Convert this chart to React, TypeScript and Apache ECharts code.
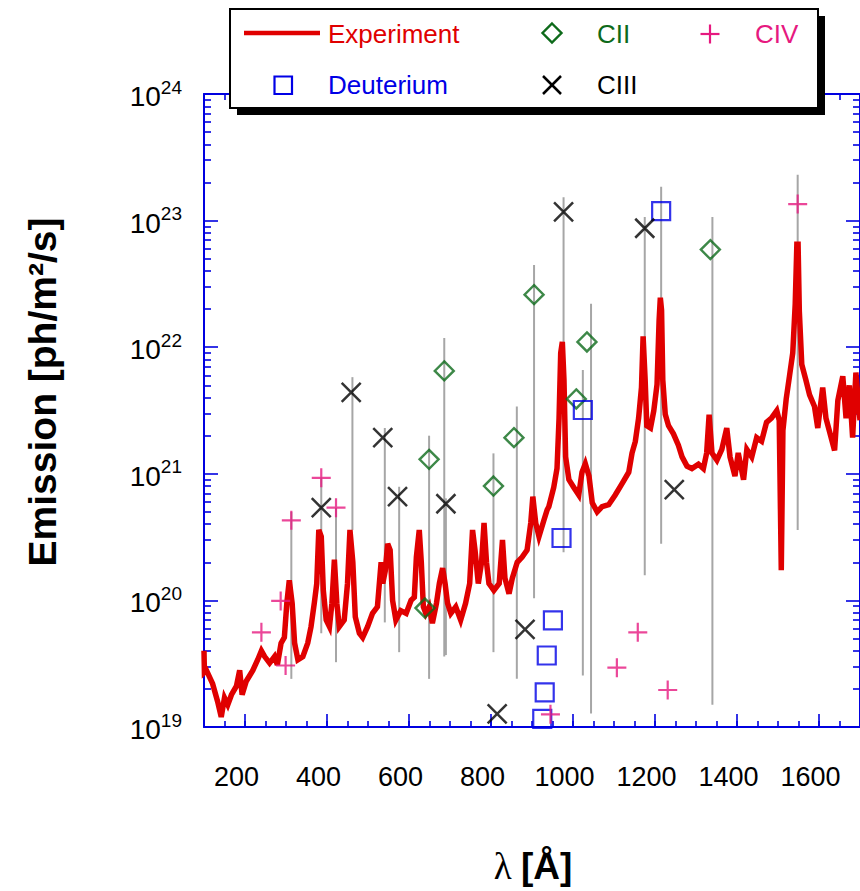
import React, { useEffect, useRef } from 'react';
import * as echarts from 'echarts';

// ---------- data ----------
const experimentLambda = [
  100, 101, 106, 121, 133, 142, 150, 158, 167, 179, 187, 193, 203, 219, 231, 240, 248, 260, 272, 279,
  288, 296, 302, 308, 315, 321, 329, 341, 353, 361, 369, 375, 380, 386, 391, 398, 406, 412, 418, 424,
  430, 442, 450, 456, 463, 469, 479, 487, 499, 511, 523, 532, 536, 542, 548, 554, 560, 568, 580, 593,
  605, 613, 618, 625, 630, 635, 641, 649, 657, 667, 674, 682, 688, 694, 702, 714, 726, 738, 748, 755,
  761, 769, 777, 783, 789, 795, 807, 820, 828, 834, 844, 852, 864, 876, 888, 897, 902, 909, 917, 929,
  937, 941, 953, 961, 966, 970, 974, 978, 982, 990, 1002, 1014, 1022, 1030, 1039, 1047, 1059, 1071, 1087, 1103,
  1120, 1136, 1144, 1152, 1160, 1167, 1171, 1176, 1180, 1189, 1197, 1205, 1210, 1213, 1216, 1219, 1225, 1233, 1245, 1257,
  1266, 1278, 1290, 1306, 1318, 1326, 1332, 1339, 1351, 1363, 1375, 1383, 1395, 1403, 1416, 1424, 1436, 1448, 1460, 1472,
  1484, 1497, 1503, 1508, 1512, 1520, 1528, 1536, 1542, 1546, 1549, 1552, 1558, 1568, 1577, 1589, 1597, 1609, 1617, 1625,
  1638, 1646, 1658, 1666, 1674, 1682, 1690, 1700,
];
const experimentEmission = [
  4.0e19, 2.7e19, 2.8e19, 2.2e19, 1.6e19, 1.2e19, 1.7e19, 1.5e19, 1.8e19, 2.1e19, 2.8e19, 1.8e19, 2.3e19, 2.8e19, 3.4e19, 4.0e19, 3.6e19, 3.2e19, 3.6e19, 3.1e19,
  4.6e19, 5.1e19, 9.5e19, 1.44e20, 9.5e19, 4.6e19, 3.4e19, 3.6e19, 4.6e19, 6.2e19, 9.5e19, 1.36e20, 3.6e20, 3.2e20, 1.2e20, 7.0e19, 6.2e19, 9.5e19, 2.1e20, 9.5e19,
  6.2e19, 7.0e19, 1.36e20, 3.6e20, 2.0e20, 7.4e19, 5.5e19, 5.1e19, 6.2e19, 7.9e19, 8.9e19, 2.0e20, 1.36e20, 1.7e20, 2.8e20, 2.5e20, 1.0e20, 7.0e19, 8.3e19, 7.9e19,
  1.0e20, 1.06e20, 2.2e20, 3.6e20, 2.0e20, 8.9e19, 7.9e19, 8.9e19, 6.6e19, 9.5e19, 1.36e20, 1.8e20, 1.36e20, 9.5e19, 7.9e19, 8.9e19, 7.0e19, 9.5e19, 1.36e20, 3.6e20,
  2.5e20, 1.36e20, 2.0e20, 4.1e20, 2.0e20, 1.36e20, 1.2e20, 1.36e20, 3.0e20, 1.5e20, 1.13e20, 1.5e20, 2.0e20, 2.2e20, 2.5e20, 4.1e20, 6.6e20, 4.1e20, 3.2e20, 4.3e20,
  5.2e20, 5.5e20, 7.8e20, 1.1e21, 2.75e21, 9.0e21, 1.1e22, 5.5e21, 1.36e21, 9.0e20, 7.8e20, 6.8e20, 1.03e21, 1.2e21, 9.6e20, 5.9e20, 5.0e20, 5.5e20, 5.7e20, 6.8e20,
  8.4e20, 1.03e21, 1.46e21, 1.8e21, 2.75e21, 4.8e21, 1.22e22, 5.5e21, 2.4e21, 2.3e21, 3.15e21, 5.1e21, 1.63e22, 2.46e22, 1.96e22, 5.5e21, 2.95e21, 2.4e21, 2.07e21, 1.68e21,
  1.36e21, 1.15e21, 1.1e21, 1.19e21, 1.1e21, 1.46e21, 2.93e21, 1.46e21, 1.28e21, 1.56e21, 2.3e21, 1.36e21, 9.6e20, 1.46e21, 9.0e20, 1.56e21, 1.36e21, 1.93e21, 1.81e21, 2.55e21,
  2.75e21, 3.15e21, 2.65e21, 1.73e20, 2.2e21, 3.9e21, 5.9e21, 9.0e21, 2.2e22, 6.5e22, 6.5e22, 1.93e22, 7.3e21, 5.5e21, 4.2e21, 3.4e21, 2.3e21, 4.8e21, 2.75e21, 2.2e21,
  1.53e21, 3.8e21, 5.9e21, 2.75e21, 5.0e21, 1.93e21, 6.3e21, 2.65e21,
];

const deuteriumLambda = [925, 931, 936, 951, 972, 1024, 1215];
const deuteriumEmission = [1.16e19, 1.88e19, 3.67e19, 6.95e19, 3.11e20, 3.19e21, 1.19e23];

const ciiLambda = [639, 649, 686, 806, 856, 905, 1008, 1034, 1335];
const ciiEmission = [8.7e19, 1.3e21, 6.5e21, 8.0e20, 1.93e21, 2.6e22, 3.9e21, 1.1e22, 5.9e22];

const ciiiLambda = [386, 459, 536, 572, 690, 815, 883, 977, 1175, 1247];
const ciiiEmission = [5.4e20, 4.4e21, 1.93e21, 6.6e20, 5.8e20, 1.27e19, 5.9e19, 1.17e23, 8.7e22, 7.5e20];

const civLambda = [240, 287, 299, 313, 386, 422, 945, 1107, 1158, 1231, 1548];
const civEmission = [5.6e19, 9.9e19, 3.06e19, 4.29e20, 9.3e20, 5.4e20, 1.26e19, 2.94e19, 5.6e19, 1.96e19, 1.35e23];

const rangeLambda = [313, 386, 422, 462, 541, 576, 649, 686, 690, 806, 863, 905, 977, 1024, 1044, 1175, 1215, 1340, 1548];
const rangeLow = [2.4e19, 5.5e19, 3.25e19, 3.6e20, 6.7e19, 3.9e19, 2.4e19, 3.6e19, 3.7e19, 3.9e19, 2.4e19, 1.04e20, 2.4e20, 2.55e19, 1.28e19, 1.58e20, 2.8e20, 1.5e19, 3.6e20];
const rangeHigh = [5.0e20, 9.4e20, 5.4e20, 5.8e21, 2.3e21, 7.9e20, 2.0e21, 1.18e22, 6.4e20, 1.45e21, 3.4e21, 4.45e22, 1.53e23, 6.6e21, 2.2e22, 1.07e23, 1.85e23, 1.07e23, 2.3e23];

const xTickLabels = [200, 400, 600, 800, 1000, 1200, 1400, 1600];
const yDecadeExponents = [19, 20, 21, 22, 23, 24];
const minorMultipliers = [2, 3, 4, 5, 6, 7, 8, 9];

// ---------- styles ----------
const FONT = '"Liberation Sans", Arial, Helvetica, sans-serif';
const BLUE = '#0000e0';
const RED = '#e00000';
const GREEN = '#0d6a1a';
const PINK = '#e6197f';
const DBLUE = '#0000e6';

export default function App() {
  const ref = useRef<HTMLDivElement>(null);

  useEffect(() => {
    if (!ref.current) return;
    const chart = echarts.init(ref.current, null, { renderer: 'svg' });

    const pairs = (xs: number[], ys: number[]) => xs.map((x, i) => [x, ys[i]]);
    const minorLogs: number[] = [];
    yDecadeExponents.slice(0, -1).forEach((e) =>
      minorMultipliers.forEach((m) => minorLogs.push(e + Math.log10(m)))
    );

    const xRange = { type: 'value', min: 100, max: 1700, splitLine: { show: false } };
    const axisLine = { show: true, onZero: false, lineStyle: { color: BLUE, width: 2 } };
    const tickStyle = { color: BLUE, width: 1.6 };
    const yRange = { type: 'value', min: 19, max: 24, splitLine: { show: false } };

    const option: any = {
      animation: false,
      backgroundColor: '#ffffff',
      grid: { left: 204, top: 94, width: 658, height: 633, containLabel: false },
      xAxis: [
        {
          ...xRange, position: 'bottom', interval: 50, axisLine,
          axisTick: { show: true, inside: true, length: 6, lineStyle: tickStyle },
          axisLabel: {
            show: true, customValues: xTickLabels, margin: 36, fontSize: 27, color: '#000',
            fontFamily: FONT, padding: [0, 17, 0, 0], formatter: (v: number) => String(v),
          },
        },
        {
          ...xRange, position: 'bottom', axisLine: { show: false },
          axisTick: { show: true, inside: true, length: 13, customValues: xTickLabels, lineStyle: tickStyle },
          axisLabel: { show: false },
        },
        {
          ...xRange, position: 'top', interval: 50, axisLine,
          axisTick: { show: true, inside: true, length: 6, lineStyle: tickStyle },
          axisLabel: { show: false },
        },
        {
          ...xRange, position: 'top', axisLine: { show: false },
          axisTick: { show: true, inside: true, length: 13, customValues: xTickLabels, lineStyle: tickStyle },
          axisLabel: { show: false },
        },
      ],
      yAxis: [
        { type: 'log', logBase: 10, min: 1e19, max: 1e24, position: 'left', show: false },
        {
          ...yRange, position: 'left', interval: 1, axisLine,
          axisTick: { show: true, inside: true, length: 14, lineStyle: tickStyle },
          axisLabel: {
            show: true, margin: 22, color: '#000',
            formatter: (v: number) => `{b|10}{e|${Math.round(v)}}`,
            rich: {
              b: { fontSize: 28, fontFamily: FONT, color: '#000', padding: [5, 0, 0, 0], verticalAlign: 'bottom' },
              e: { fontSize: 19, fontFamily: FONT, color: '#000', verticalAlign: 'top' },
            },
          },
        },
        {
          ...yRange, position: 'left', axisLine: { show: false },
          axisTick: { show: true, inside: true, length: 7, customValues: minorLogs, lineStyle: tickStyle },
          axisLabel: { show: false },
        },
        {
          ...yRange, position: 'right', interval: 1, axisLine,
          axisTick: { show: true, inside: true, length: 14, lineStyle: tickStyle },
          axisLabel: { show: false },
        },
        {
          ...yRange, position: 'right', axisLine: { show: false },
          axisTick: { show: true, inside: true, length: 7, customValues: minorLogs, lineStyle: tickStyle },
          axisLabel: { show: false },
        },
      ],
      series: [
        {
          name: 'range', type: 'custom', xAxisIndex: 0, yAxisIndex: 0, z: 1,
          encode: { x: 0, y: [1, 2] },
          data: rangeLambda.map((l, i) => [l, rangeLow[i], rangeHigh[i]]),
          renderItem: (params: any, api: any) => {
            const p1 = api.coord([api.value(0), api.value(1)]);
            const p2 = api.coord([api.value(0), api.value(2)]);
            return {
              type: 'line',
              shape: { x1: p1[0], y1: p1[1], x2: p2[0], y2: p2[1] },
              style: { stroke: '#a6a6a6', lineWidth: 2 },
            };
          },
        },
        {
          name: 'Experiment', type: 'line', xAxisIndex: 0, yAxisIndex: 0, z: 2,
          data: pairs(experimentLambda, experimentEmission),
          showSymbol: false, symbol: 'none',
          lineStyle: { color: RED, width: 5.5, join: 'miter' },
        },
        {
          name: 'CII', type: 'scatter', xAxisIndex: 0, yAxisIndex: 0, z: 3,
          data: pairs(ciiLambda, ciiEmission), symbol: 'diamond', symbolSize: 19,
          itemStyle: { color: 'transparent', borderColor: GREEN, borderWidth: 2.4 },
        },
        {
          name: 'Deuterium', type: 'scatter', xAxisIndex: 0, yAxisIndex: 0, z: 3,
          data: pairs(deuteriumLambda, deuteriumEmission), symbol: 'rect', symbolSize: 18,
          itemStyle: { color: 'transparent', borderColor: DBLUE, borderWidth: 2.2 },
        },
        {
          name: 'CIII', type: 'scatter', xAxisIndex: 0, yAxisIndex: 0, z: 3,
          data: pairs(ciiiLambda, ciiiEmission), symbol: 'path://M0 0L10 10M10 0L0 10', symbolSize: 19,
          itemStyle: { color: 'transparent', borderColor: '#000', borderWidth: 2.5 },
        },
        {
          name: 'CIV', type: 'scatter', xAxisIndex: 0, yAxisIndex: 0, z: 3,
          data: pairs(civLambda, civEmission), symbol: 'path://M5 0L5 10M0 5L10 5', symbolSize: 19,
          itemStyle: { color: 'transparent', borderColor: PINK, borderWidth: 2.2 },
        },
      ],
      graphic: [
        // axis titles
        {
          type: 'text', x: 42, y: 392, rotation: Math.PI / 2, z: 10,
          style: { text: 'Emission [ph/m²/s]', font: `bold 39px ${FONT}`, fill: '#000', align: 'center', verticalAlign: 'middle' },
        },
        {
          type: 'text', x: 533, y: 866, z: 10,
          style: {
            text: '{l|λ\u00a0}{a|[Å]}', align: 'center', verticalAlign: 'middle',
            rich: {
              l: { font: '37px "Liberation Serif", "DejaVu Serif", serif', fill: '#000' },
              a: { font: `bold 37px ${FONT}`, fill: '#000' },
            },
          },
        },
        // legend box
        { type: 'rect', z: 20, shape: { x: 237, y: 16, width: 588, height: 99 }, style: { fill: '#000' } },
        { type: 'rect', z: 21, shape: { x: 230, y: 9, width: 588, height: 99 }, style: { fill: '#fff', stroke: '#000', lineWidth: 2 } },
        { type: 'line', z: 22, shape: { x1: 244, y1: 33, x2: 320, y2: 33 }, style: { stroke: RED, lineWidth: 4.5 } },
        { type: 'text', z: 22, x: 328, y: 34, style: { text: 'Experiment', font: `26px ${FONT}`, fill: RED, verticalAlign: 'middle' } },
        { type: 'polygon', z: 22, shape: { points: [[552, 23.5], [561.5, 33], [552, 42.5], [542.5, 33]] }, style: { fill: 'none', stroke: GREEN, lineWidth: 2.4 } },
        { type: 'text', z: 22, x: 597, y: 34, style: { text: 'CII', font: `26px ${FONT}`, fill: GREEN, verticalAlign: 'middle' } },
        { type: 'line', z: 22, shape: { x1: 710, y1: 24.5, x2: 710, y2: 43.5 }, style: { stroke: PINK, lineWidth: 2.2 } },
        { type: 'line', z: 22, shape: { x1: 700.5, y1: 34, x2: 719.5, y2: 34 }, style: { stroke: PINK, lineWidth: 2.2 } },
        { type: 'text', z: 22, x: 755, y: 34, style: { text: 'CIV', font: `26px ${FONT}`, fill: PINK, verticalAlign: 'middle' } },
        { type: 'rect', z: 22, shape: { x: 274.5, y: 76.5, width: 17.5, height: 17.5 }, style: { fill: 'none', stroke: DBLUE, lineWidth: 2.2 } },
        { type: 'text', z: 22, x: 328, y: 85, style: { text: 'Deuterium', font: `26px ${FONT}`, fill: DBLUE, verticalAlign: 'middle' } },
        { type: 'line', z: 22, shape: { x1: 543, y1: 76, x2: 561, y2: 94 }, style: { stroke: '#000', lineWidth: 2.5 } },
        { type: 'line', z: 22, shape: { x1: 561, y1: 76, x2: 543, y2: 94 }, style: { stroke: '#000', lineWidth: 2.5 } },
        { type: 'text', z: 22, x: 597, y: 85, style: { text: 'CIII', font: `26px ${FONT}`, fill: '#000', verticalAlign: 'middle' } },
      ],
    };

    chart.setOption(option);
    return () => chart.dispose();
  }, []);

  return (
    <div
      ref={ref}
      style={{ position: 'absolute', left: 0, top: 0, width: 860, height: 891, background: '#fff' }}
    />
  );
}
